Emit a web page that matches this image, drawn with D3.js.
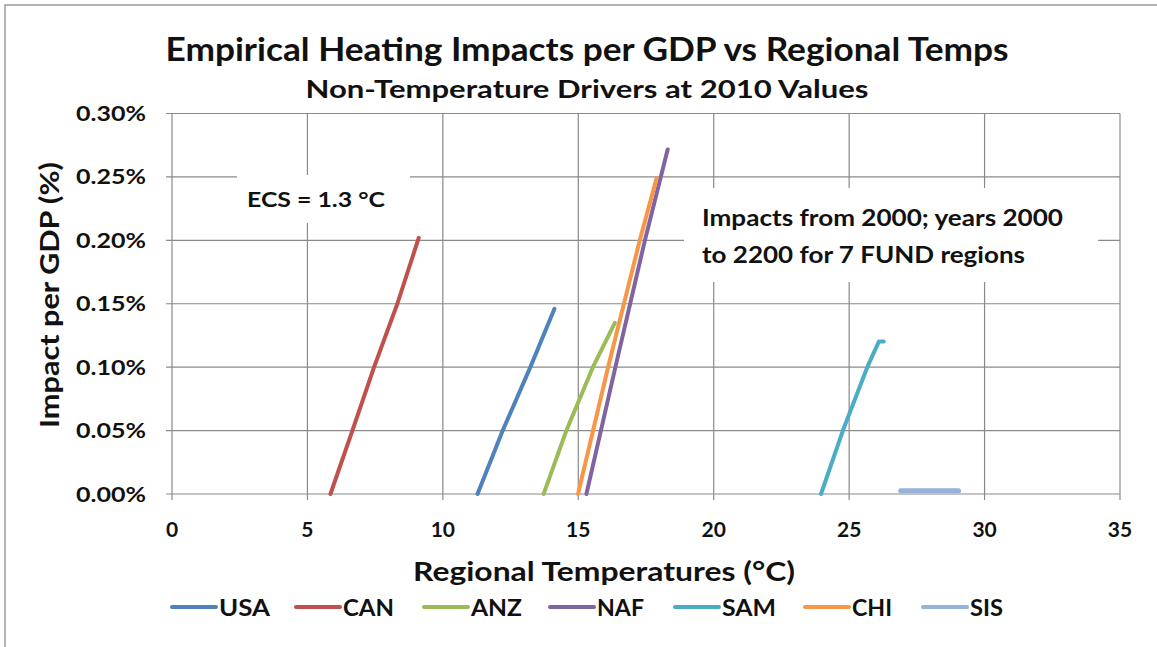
<!DOCTYPE html>
<html>
<head>
<meta charset="utf-8">
<script src="https://cdn.jsdelivr.net/npm/d3@7"></script>
<style>
  body { margin: 0; background: #fff; }
  text { font-family: Lato, "Open Sans", sans-serif; font-weight: bold; fill: #111; }
</style>
</head>
<body>
<div id="chart"></div>
<script>
// values (impact in % of GDP)
var regions = ["USA", "CAN", "ANZ", "NAF", "SAM", "CHI", "SIS"];
var colors  = ["#4F81BD", "#C0504D", "#9BBB59", "#8064A2", "#4BACC6", "#F79646", "#95B3D7"];

var usaTemp = [11.28, 12.21, 13.23, 14.12];
var usaImp  = [0, 0.05, 0.10, 0.146];
var canTemp = [5.85, 6.66, 7.46, 8.32, 9.11];
var canImp  = [0, 0.05, 0.10, 0.15, 0.202];
var anzTemp = [13.72, 14.56, 15.54, 16.35];
var anzImp  = [0, 0.05, 0.10, 0.135];
var nafTemp = [15.30, 16.37, 17.46, 18.30];
var nafImp  = [0, 0.10, 0.20, 0.2716];
var samTemp = [23.96, 24.77, 25.67, 26.10, 26.28];
var samImp  = [0, 0.05, 0.10, 0.1203, 0.1203];
var chiTemp = [14.99, 16.10, 17.27, 17.89];
var chiImp  = [0, 0.10, 0.20, 0.249];
var sisTemp = [26.90, 29.04];
var sisImp  = [0.0025, 0.0025];

var xTicks = [0, 5, 10, 15, 20, 25, 30, 35];
var yTicks = [0, 0.05, 0.10, 0.15, 0.20, 0.25, 0.30];

var temps = [usaTemp, canTemp, anzTemp, nafTemp, samTemp, chiTemp, sisTemp];
var imps  = [usaImp, canImp, anzImp, nafImp, samImp, chiImp, sisImp];
var series = regions.map(function(r, i){
    return {key: r, color: colors[i],
            values: temps[i].map(function(t, j){ return {t: t, v: imps[i][j]}; })};
});

var width = 1157, height = 647;
var svg = d3.select("#chart").append("svg")
    .attr("width", width).attr("height", height);

// outer chart frame
svg.append("rect").attr("x", 5).attr("y", 5).attr("width", width + 10).attr("height", height + 10)
    .attr("fill", "#fff").attr("stroke", "#9a9a9a").attr("stroke-width", 1.5);

var x = d3.scaleLinear().domain([0, 35]).range([172, 1120]);
var y = d3.scaleLinear().domain([0, 0.30]).range([494, 113.5]);

var gridColor = "#8a8a8a";

// helper: text squeezed/stretched to the width seen in the picture
function label(sel, len){
    return sel.attr("textLength", len).attr("lengthAdjust", "spacingAndGlyphs");
}

// grid
svg.selectAll(".vgrid").data(xTicks).enter().append("line")
    .attr("x1", function(d){ return x(d); }).attr("x2", function(d){ return x(d); })
    .attr("y1", y(0.30)).attr("y2", y(0) + 6)
    .attr("stroke", gridColor).attr("stroke-width", 1.2);
svg.selectAll(".hgrid").data(yTicks).enter().append("line")
    .attr("x1", x(0) - 6).attr("x2", x(35))
    .attr("y1", function(d){ return y(d); }).attr("y2", function(d){ return y(d); })
    .attr("stroke", gridColor).attr("stroke-width", 1.2);

// tick labels
var pct = d3.format(".2f");
svg.selectAll(".ylab").data(yTicks).enter().append("text")
    .attr("x", 146).attr("y", function(d){ return y(d) + 7.5; })
    .attr("text-anchor", "end").style("font-size", "21px")
    .attr("textLength", 70).attr("lengthAdjust", "spacingAndGlyphs")
    .text(function(d){ return pct(d) + "%"; });
svg.selectAll(".xlab").data(xTicks).enter().append("text")
    .attr("x", function(d){ return x(d); }).attr("y", 537)
    .attr("text-anchor", "middle").style("font-size", "21px")
    .text(function(d){ return d; });

// annotation boxes (white behind the text)
svg.append("rect").attr("x", 237).attr("y", 175).attr("width", 173).attr("height", 48).attr("fill", "#fff");
label(svg.append("text").attr("x", 247).attr("y", 207).style("font-size", "21px"), 138)
    .text("ECS = 1.3 °C");

svg.append("rect").attr("x", 684).attr("y", 188).attr("width", 414).attr("height", 94).attr("fill", "#fff");
label(svg.append("text").attr("x", 702).attr("y", 226).style("font-size", "22px"), 361)
    .text("Impacts from 2000; years 2000");
label(svg.append("text").attr("x", 702).attr("y", 263).style("font-size", "22px"), 323)
    .text("to 2200 for 7 FUND regions");

// series lines
var line = d3.line().x(function(d){ return x(d.t); }).y(function(d){ return y(d.v); });
svg.selectAll(".series").data(series).enter().append("path")
    .attr("d", function(d){ return line(d.values); })
    .attr("fill", "none")
    .attr("stroke", function(d){ return d.color; })
    .attr("stroke-width", function(d){ return d.key === "SIS" ? 5 : 4; })
    .attr("stroke-linecap", "round").attr("stroke-linejoin", "round");

// titles
label(svg.append("text").attr("x", 587).attr("y", 61).attr("text-anchor", "middle")
    .style("font-size", "32px"), 843)
    .text("Empirical  Heating Impacts per GDP vs Regional Temps");
label(svg.append("text").attr("x", 587).attr("y", 98).attr("text-anchor", "middle")
    .style("font-size", "25px"), 563)
    .text("Non-Temperature Drivers at 2010 Values");

label(svg.append("text").attr("x", 604).attr("y", 581).attr("text-anchor", "middle")
    .style("font-size", "27px"), 382)
    .text("Regional Temperatures (°C)");
label(svg.append("text").attr("transform", "translate(59,295) rotate(-90)")
    .attr("text-anchor", "middle").style("font-size", "27px"), 266)
    .text("Impact per GDP (%)");

// legend
var legX = [172, 296, 424, 550, 675, 805, 923];
var legW = [51, 51, 51, 47, 54, 40, 33];
var legend = svg.selectAll(".legend").data(series).enter().append("g")
    .attr("transform", function(d, i){ return "translate(" + legX[i] + ",607)"; });
legend.append("line").attr("x1", 0).attr("x2", 44).attr("y1", 0).attr("y2", 0)
    .attr("stroke", function(d){ return d.color; }).attr("stroke-width", 4)
    .attr("stroke-linecap", "round");
legend.append("text").attr("x", 47).attr("y", 8.5).style("font-size", "22px")
    .attr("textLength", function(d, i){ return legW[i]; }).attr("lengthAdjust", "spacingAndGlyphs")
    .text(function(d){ return d.key; });
</script>
</body>
</html>
